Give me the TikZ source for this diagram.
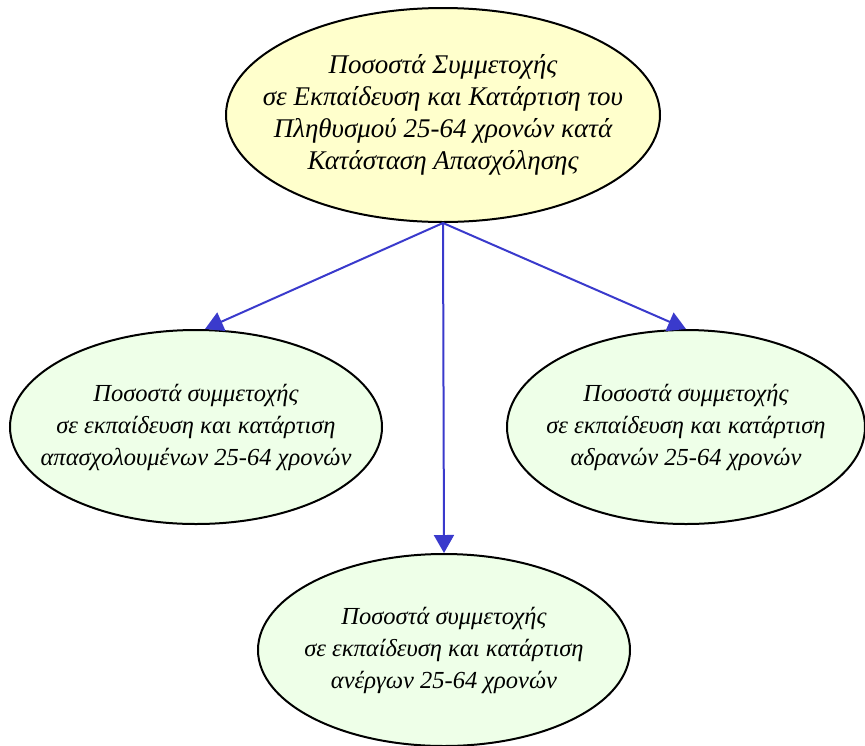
\documentclass[tikz,border=0pt]{standalone}
\usepackage{fontspec}
\setmainfont{Liberation Serif}
\usetikzlibrary{shapes.geometric,arrows.meta}
\definecolor{topfill}{HTML}{FFFFCC}
\definecolor{subfill}{HTML}{EEFFE8}
\definecolor{arrowblue}{HTML}{3A3ACC}
\tikzset{
  ell/.style={ellipse, draw=black, line width=2pt, inner sep=0pt},
  bigtxt/.style={align=center, inner sep=0pt, font=\itshape\fontsize{27}{32}\selectfont},
  smalltxt/.style={align=center, inner sep=0pt, font=\itshape\fontsize{24.5}{32}\selectfont},
  conn/.style={draw=arrowblue, line width=2pt, -{Triangle[length=18pt,width=20pt]}}
}
\begin{document}
\begin{tikzpicture}[x=1pt,y=-1pt]
\useasboundingbox (0,0) rectangle (865,745);
\node[ell, fill=topfill, minimum width=434pt, minimum height=214pt,
  label={[bigtxt]center:Ποσοστά Συμμετοχής\\σε Εκπαίδευση και Κατάρτιση του\\Πληθυσμού 25-64 χρονών κατά\\Κατάσταση Απασχόλησης}] (top) at (443,115) {};
\node[ell, fill=subfill, minimum width=372pt, minimum height=194pt,
  label={[smalltxt]center:Ποσοστά συμμετοχής\\σε εκπαίδευση και κατάρτιση\\απασχολουμένων 25-64 χρονών}] (left) at (196,427) {};
\node[ell, fill=subfill, minimum width=358pt, minimum height=194pt,
  label={[smalltxt]center:Ποσοστά συμμετοχής\\σε εκπαίδευση και κατάρτιση\\αδρανών 25-64 χρονών}] (right) at (686,427) {};
\node[ell, fill=subfill, minimum width=372pt, minimum height=192pt,
  label={[smalltxt]center:Ποσοστά συμμετοχής\\σε εκπαίδευση και κατάρτιση\\ανέργων 25-64 χρονών}] (bottom) at (444,650) {};
\draw[conn] (top.south) -- ([xshift=9pt]left.north);
\draw[conn] (top.south) -- (right.north);
\draw[conn] (top.south) -- (bottom.north);
\end{tikzpicture}
\end{document}
